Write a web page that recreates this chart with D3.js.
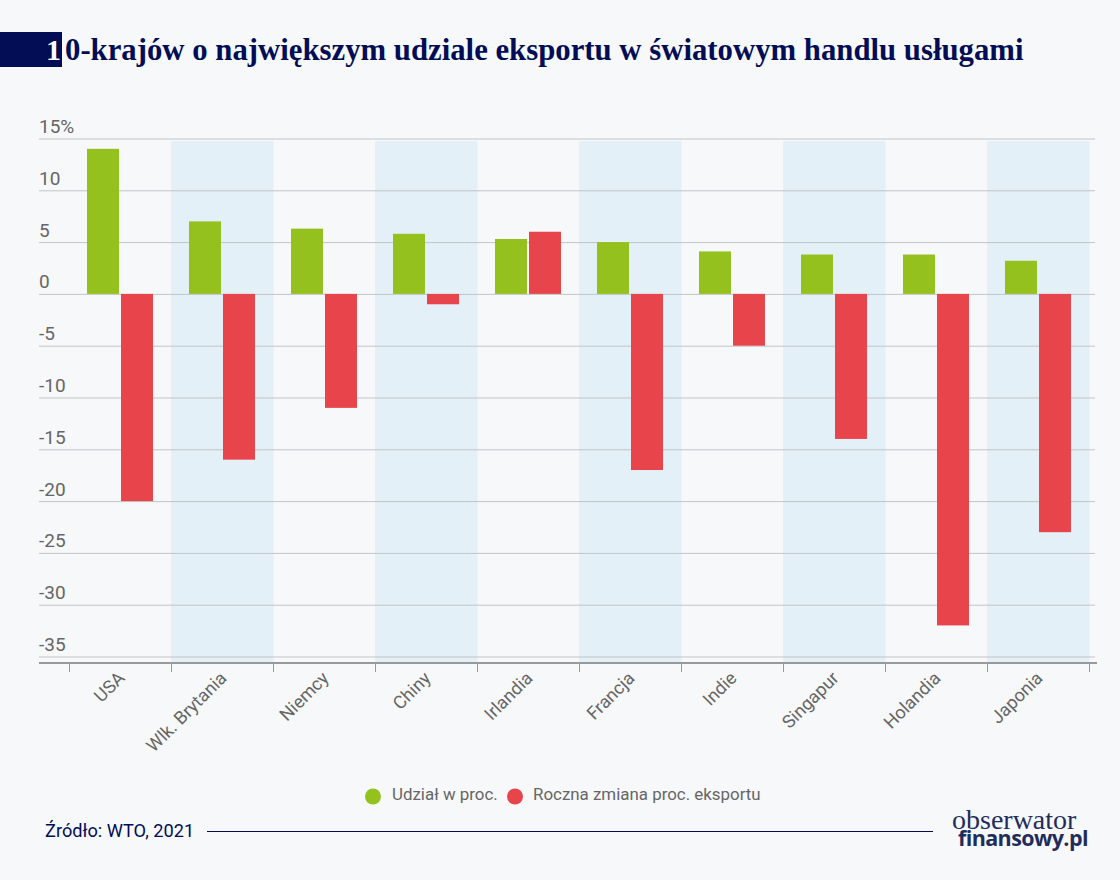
<!DOCTYPE html>
<html lang="pl">
<head>
<meta charset="utf-8">
<script src="https://cdn.jsdelivr.net/npm/d3@7"></script>
<style>
  html, body { margin: 0; padding: 0; background: #f7f8fa; }
  svg { display: block; }
  text { font-family: Roboto, sans-serif; }
  .y-axis text { fill: #666; font-size: 19px; }
  .x-axis text { fill: #666; font-size: 18px; }
  .legend-label { fill: #666; font-size: 16.9px; }
</style>
</head>
<body>
<svg id="chart" width="1120" height="880"></svg>
<script>
const countries = ["USA", "Wlk. Brytania", "Niemcy", "Chiny", "Irlandia", "Francja", "Indie", "Singapur", "Holandia", "Japonia"];
const share = [14, 7, 6.3, 5.8, 5.3, 5, 4.1, 3.8, 3.8, 3.2];
const change = [-20, -16, -11, -1, 6, -17, -5, -14, -32, -23];
const yTicks = [15, 10, 5, 0, -5, -10, -15, -20, -25, -30, -35];
const seriesNames = ["Udział w proc.", "Roczna zmiana proc. eksportu"];

const navy = "#020d56";
const green = "#95c11f";
const red = "#e8444b";

const svg = d3.select("#chart");

const xScale = d3.scaleBand().domain(countries).range([69.5, 1089.5]);
const yScale = d3.scaleLinear().domain([-35, 15]).range([656.5, 138.5]);
const plotBottom = 663;

// Shaded columns, every second country
svg.append("g").selectAll("rect")
  .data(countries.filter((c, i) => i % 2 === 1))
  .enter().append("rect")
  .attr("x", d => xScale(d) - 0.5)
  .attr("y", 141)
  .attr("width", xScale.bandwidth() + 0.5)
  .attr("height", plotBottom - 141)
  .attr("fill", "#e3f0f8");

// Y axis: gridlines with the labels sitting on top of them
const yAxis = svg.append("g")
  .attr("class", "y-axis")
  .attr("transform", "translate(39,0)")
  .call(d3.axisRight(yScale)
    .tickValues(yTicks)
    .tickSize(1056)
    .tickFormat(d => d === 15 ? "15%" : d));
yAxis.select(".domain").remove();
yAxis.selectAll("line").attr("stroke", "#c2c4c6").attr("stroke-width", 1);
yAxis.selectAll("text")
  .attr("x", 0)
  .attr("dy", -6)
  .attr("text-anchor", "start");

// Bars
const barWidth = 32;
svg.append("g").selectAll("rect")
  .data(share)
  .enter().append("rect")
  .attr("x", (d, i) => xScale(countries[i]) + 17.5)
  .attr("y", d => yScale(d))
  .attr("width", barWidth)
  .attr("height", d => yScale(0) - yScale(d))
  .attr("fill", green);

svg.append("g").selectAll("rect")
  .data(change)
  .enter().append("rect")
  .attr("x", (d, i) => xScale(countries[i]) + 51.5)
  .attr("y", d => yScale(Math.max(d, 0)))
  .attr("width", barWidth)
  .attr("height", d => Math.abs(yScale(d) - yScale(0)))
  .attr("fill", red);

// X axis
const xAxisGroup = svg.append("g")
  .attr("class", "x-axis")
  .attr("transform", "translate(0," + plotBottom + ")")
  .call(d3.axisBottom(xScale).tickSize(0));
xAxisGroup.select(".domain").remove();
xAxisGroup.selectAll("text")
  .attr("text-anchor", "end")
  .attr("dy", 0)
  .attr("y", 0)
  .attr("transform", "translate(1,12) rotate(-45) translate(0,6)");

xAxisGroup.append("line")
  .attr("x1", 39).attr("x2", 1097)
  .attr("stroke", "#999").attr("stroke-width", 2);
xAxisGroup.selectAll(".sep")
  .data(xScale.domain().map(d => xScale(d)).concat(xScale.range()[1]))
  .enter().append("line")
  .attr("class", "sep")
  .attr("x1", d => d).attr("x2", d => d)
  .attr("y1", 0).attr("y2", 9)
  .attr("stroke", "#999");

// Title
svg.append("rect").attr("x", 0).attr("y", 32).attr("width", 62).attr("height", 35).attr("fill", navy);
svg.append("text")
  .attr("x", 46).attr("y", 60)
  .attr("fill", "#fff")
  .style("font-family", "'Liberation Serif', serif")
  .style("font-weight", "bold")
  .style("font-size", "30px")
  .text("1");
svg.append("text")
  .attr("x", 65).attr("y", 60)
  .attr("fill", navy)
  .style("font-family", "'Liberation Serif', serif")
  .style("font-weight", "bold")
  .style("font-size", "30.75px")
  .text("0-krajów o największym udziale eksportu w światowym handlu usługami");

// Legend
const legendX = [373, 515];
const legendColors = [green, red];
seriesNames.forEach((name, i) => {
  svg.append("circle").attr("cx", legendX[i]).attr("cy", 796.5).attr("r", 8).attr("fill", legendColors[i]);
  svg.append("text").attr("class", "legend-label").attr("x", legendX[i] + (i ? 18 : 19)).attr("y", 800).text(name);
});

// Footer
svg.append("text").attr("x", 45).attr("y", 837)
  .attr("fill", navy).style("font-size", "18.2px").text("Źródło: WTO, 2021");
svg.append("line").attr("x1", 207).attr("x2", 933).attr("y1", 831.5).attr("y2", 831.5)
  .attr("stroke", navy).attr("stroke-width", 1);
svg.append("text").attr("x", 952).attr("y", 829)
  .attr("fill", "#1f2d5c")
  .style("font-family", "'Liberation Serif', serif")
  .style("font-size", "28px").text("obserwator");
svg.append("text").attr("x", 958).attr("y", 846)
  .attr("fill", "#1f2d5c")
  .style("font-family", "'Open Sans', sans-serif")
  .style("font-weight", "bold")
  .style("letter-spacing", "-0.6px")
  .style("font-size", "21.5px").text("finansowy.pl");
</script>
</body>
</html>
